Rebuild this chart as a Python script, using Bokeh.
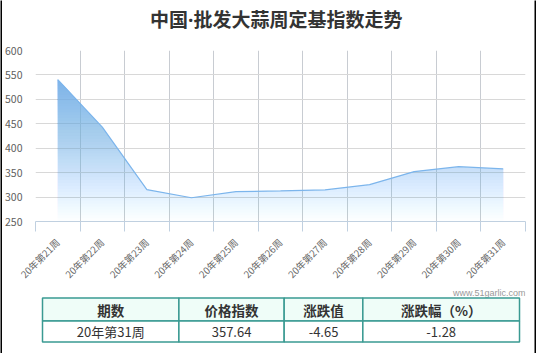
import numpy as np
from bokeh.plotting import figure
from bokeh.layouts import column, row
from bokeh.models import FixedTicker, Range1d
from bokeh.core.properties import value
from bokeh.embed import file_html
from bokeh.resources import INLINE

# ---------------- data ----------------
weeks = ["20年第21周", "20年第22周", "20年第23周", "20年第24周", "20年第25周",
         "20年第26周", "20年第27周", "20年第28周", "20年第29周", "20年第30周", "20年第31周"]
index_values = [540.4, 443.0, 315.3, 298.6, 311.0, 312.5, 314.7, 325.4, 352.2, 362.29, 357.64]
y_ticks = [250, 300, 350, 400, 450, 500, 550, 600]

title_text = "中国·批发大蒜周定基指数走势"
watermark = "www.51garlic.com"
table_header = ["期数", "价格指数", "涨跌值", "涨跌幅（%）"]
table_row = ["20年第31周", "357.64", "-4.65", "-1.28"]

# ---------------- styles ----------------
BLUE = "#7cb5ec"
CJK = "Noto Sans CJK SC"
TEAL = "#3a9a92"
CW = 532  # inner content width (inside the black border)
TOP_H, MAIN_H = 40, 248
TB_TOP = TOP_H + MAIN_H  # 288
TB_H = 353 - TB_TOP


def blank(width, height, xr, yr, bg="white"):
    f = figure(width=width, height=height, output_backend="svg", toolbar_location=None,
               x_range=xr, y_range=yr, x_axis_location=None, y_axis_location=None,
               min_border=0, min_border_left=0, min_border_right=0,
               min_border_top=0, min_border_bottom=0)
    f.xgrid.visible = False
    f.ygrid.visible = False
    f.outline_line_color = None
    f.background_fill_color = bg
    f.border_fill_color = bg
    return f


# ---------------- title ----------------
tfig = blank(CW, TOP_H, Range1d(2, 2 + CW), Range1d(TOP_H, 0))
tfig.text(x=[263.3], y=[19.5], text=[title_text], text_align="center", text_baseline="middle",
          text_font=value("Open Sans, 'Noto Sans CJK SC'"), text_font_size="19px",
          text_font_style="bold", text_color="#333333")

# ---------------- chart ----------------
n = len(weeks)
xs = np.arange(n, dtype=float)
vals = np.array(index_values, dtype=float)

p = figure(width=CW, height=MAIN_H, output_backend="svg", toolbar_location=None,
           x_range=Range1d(-0.5, n - 0.5), y_range=Range1d(y_ticks[0], y_ticks[-1]),
           min_border_left=32, min_border_right=9, min_border_top=10,
           min_border_bottom=MAIN_H - 10 - 173)
p.outline_line_color = None
p.background_fill_color = "white"
p.border_fill_color = "white"

boundaries = list(np.arange(n + 1) - 0.5)
p.xaxis.ticker = FixedTicker(ticks=list(range(n)), minor_ticks=boundaries)
p.xaxis.major_label_overrides = {i: w for i, w in enumerate(weeks)}
p.xaxis.major_label_orientation = np.pi / 4
p.xaxis.major_tick_line_color = None
p.xaxis.major_tick_out = 0
p.xaxis.major_tick_in = 0
p.xaxis.minor_tick_in = 0
p.xaxis.minor_tick_out = 10
p.xaxis.minor_tick_line_color = "#C0D0E0"
p.xaxis.axis_line_color = "#C0D0E0"
p.xaxis.major_label_standoff = 9
p.xaxis.major_label_text_font = CJK
p.xaxis.major_label_text_font_size = "9.6px"
p.xaxis.major_label_text_color = "#666666"

p.yaxis.ticker = FixedTicker(ticks=y_ticks)
p.yaxis.axis_line_color = None
p.yaxis.major_tick_line_color = None
p.yaxis.minor_tick_line_color = None
p.yaxis.major_tick_out = 0
p.yaxis.major_tick_in = 0
p.yaxis.major_label_standoff = 13
p.yaxis.major_label_text_font = CJK
p.yaxis.major_label_text_font_size = "10.5px"
p.yaxis.major_label_text_color = "#606060"

p.xgrid.ticker = FixedTicker(ticks=boundaries)
p.xgrid.grid_line_color = "#c8ccd2"
p.ygrid.ticker = FixedTicker(ticks=y_ticks)
p.ygrid.grid_line_color = "#d8d8d8"

# gradient area: stacked translucent layers
base = y_ticks[0]
top_v = vals.max()
N = 48
ts = np.linspace(base, top_v, N + 1)[:-1]
max_op = 0.95
cover = max_op * np.arange(1, N + 1) / N
alphas = [cover[0]] + [1 - (1 - cover[k]) / (1 - cover[k - 1]) for k in range(1, N)]
for t, a in zip(ts, alphas):
    px, py = [], []
    for i in range(n - 1):
        px.append(xs[i]); py.append(max(vals[i], t))
        y0, y1 = vals[i], vals[i + 1]
        if (y0 - t) * (y1 - t) < 0:
            f = (t - y0) / (y1 - y0)
            px.append(xs[i] + f * (xs[i + 1] - xs[i])); py.append(t)
    px.append(xs[-1]); py.append(max(vals[-1], t))
    p.varea(x=px, y1=float(t), y2=py, fill_color=BLUE, fill_alpha=float(a))

p.line(xs, vals, line_color=BLUE, line_width=1.2)

# ---------------- table + watermark ----------------
tb = blank(CW, TB_H, Range1d(2, 2 + CW), Range1d(353, TB_TOP))
tb.text(x=[534], y=[292.5], text=[watermark], text_align="right", text_baseline="middle",
        text_font=value("Liberation Sans"), text_font_size="9px", text_color="#999999")

col_edges = [9.6, 157.7, 272.0, 357.4, 527.5]
row_edges = [297.5, 320.5, 341.5]
fills = ["#effdf8", "#ffffff"]
for r in range(2):
    tb.quad(left=col_edges[:-1], right=col_edges[1:],
            top=[row_edges[r]] * 4, bottom=[row_edges[r + 1]] * 4,
            fill_color=fills[r], line_color=TEAL, line_width=1.5)
centers = [(col_edges[c] + col_edges[c + 1]) / 2 for c in range(4)]
tb.text(x=centers, y=[(row_edges[0] + row_edges[1]) / 2] * 4, text=table_header,
        text_align="center", text_baseline="middle", text_font=value(CJK),
        text_font_size="13.5px", text_font_style="bold", text_color="#333333")
tb.text(x=centers, y=[(row_edges[1] + row_edges[2]) / 2] * 4, text=table_row,
        text_align="center", text_baseline="middle", text_font=value(CJK),
        text_font_size="13px", text_color="#333333")

# ---------------- black border ----------------
lbar = blank(2, 353, Range1d(0, 1), Range1d(0, 1), bg="black")
rbar = blank(2, 353, Range1d(0, 1), Range1d(0, 1), bg="black")
bbar = blank(536, 2, Range1d(0, 1), Range1d(0, 1), bg="black")

layout = column(row(lbar, column(tfig, p, tb, spacing=0), rbar, spacing=0), bbar, spacing=0)

open("out.html", "w").write(file_html(layout, INLINE))
